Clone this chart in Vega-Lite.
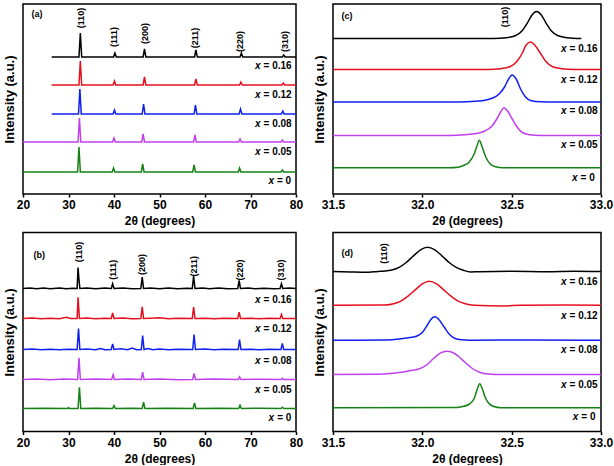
{
"$schema":"https://vega.github.io/schema/vega-lite/v6.json",
"padding":{"left":2,"top":3,"right":0,"bottom":0},
"config":{"font":"Liberation Sans","view":{"stroke":"black","strokeWidth":1.5},
"axisX":{"labelFontSize":12,"labelFontWeight":"bold","labelColor":"black","titleFontSize":12,"titleFontWeight":"bold","titleColor":"black","tickSize":3,"tickColor":"black","tickWidth":1.5,"domain":false,"grid":false,"labelPadding":2.5,"titlePadding":5,"labelFlush":false},
"axisY":{"labels":false,"ticks":false,"domain":false,"grid":false,"titleFontSize":13,"titleFontWeight":"bold","titleColor":"black","titlePadding":7},
"text":{"color":"black"}},
"datasets":{
"a":[
{"s":"0.16","x":26.3,"y":137},{"s":"0.16","x":32.3,"y":137},{"s":"0.16","x":32.6,"y":161},{"s":"0.16","x":32.9,"y":137},{"s":"0.16","x":39.9,"y":137},{"s":"0.16","x":40.2,"y":141},{"s":"0.16","x":40.5,"y":137},{"s":"0.16","x":46.4,"y":137},{"s":"0.16","x":46.7,"y":145},{"s":"0.16","x":47.0,"y":137},{"s":"0.16","x":57.7,"y":137},{"s":"0.16","x":58.0,"y":144},{"s":"0.16","x":58.3,"y":137},{"s":"0.16","x":67.7,"y":137},{"s":"0.16","x":68.0,"y":141},{"s":"0.16","x":68.3,"y":137},{"s":"0.16","x":77.0,"y":137},{"s":"0.16","x":77.3,"y":139},{"s":"0.16","x":77.6,"y":137},{"s":"0.16","x":80,"y":137},
{"s":"0.12","x":26.3,"y":109},{"s":"0.12","x":32.3,"y":109},{"s":"0.12","x":32.6,"y":133},{"s":"0.12","x":32.9,"y":109},{"s":"0.12","x":39.8,"y":109},{"s":"0.12","x":40.1,"y":113},{"s":"0.12","x":40.4,"y":109},{"s":"0.12","x":46.4,"y":109},{"s":"0.12","x":46.7,"y":117},{"s":"0.12","x":47.0,"y":109},{"s":"0.12","x":57.7,"y":109},{"s":"0.12","x":58.0,"y":115},{"s":"0.12","x":58.3,"y":109},{"s":"0.12","x":67.6,"y":109},{"s":"0.12","x":67.9,"y":112},{"s":"0.12","x":68.2,"y":109},{"s":"0.12","x":76.9,"y":109},{"s":"0.12","x":77.2,"y":111},{"s":"0.12","x":77.5,"y":109},{"s":"0.12","x":80,"y":109},
{"s":"0.08","x":26.3,"y":80},{"s":"0.08","x":32.2,"y":80},{"s":"0.08","x":32.5,"y":105},{"s":"0.08","x":32.8,"y":80},{"s":"0.08","x":39.8,"y":80},{"s":"0.08","x":40.1,"y":84},{"s":"0.08","x":40.4,"y":80},{"s":"0.08","x":46.2,"y":80},{"s":"0.08","x":46.5,"y":90},{"s":"0.08","x":46.8,"y":80},{"s":"0.08","x":57.6,"y":80},{"s":"0.08","x":57.9,"y":89},{"s":"0.08","x":58.2,"y":80},{"s":"0.08","x":67.5,"y":80},{"s":"0.08","x":67.8,"y":85},{"s":"0.08","x":68.1,"y":80},{"s":"0.08","x":76.8,"y":80},{"s":"0.08","x":77.1,"y":83},{"s":"0.08","x":77.4,"y":80},{"s":"0.08","x":80,"y":80},
{"s":"0.05","x":20,"y":52},{"s":"0.05","x":32.1,"y":52},{"s":"0.05","x":32.4,"y":76},{"s":"0.05","x":32.7,"y":52},{"s":"0.05","x":39.7,"y":52},{"s":"0.05","x":40.0,"y":56},{"s":"0.05","x":40.3,"y":52},{"s":"0.05","x":46.1,"y":52},{"s":"0.05","x":46.4,"y":60},{"s":"0.05","x":46.7,"y":52},{"s":"0.05","x":57.5,"y":52},{"s":"0.05","x":57.8,"y":59},{"s":"0.05","x":58.1,"y":52},{"s":"0.05","x":67.4,"y":52},{"s":"0.05","x":67.7,"y":55},{"s":"0.05","x":68.0,"y":52},{"s":"0.05","x":76.7,"y":52},{"s":"0.05","x":77.0,"y":54},{"s":"0.05","x":77.3,"y":52},{"s":"0.05","x":80,"y":52},
{"s":"0","x":20,"y":22},{"s":"0","x":32.0,"y":22},{"s":"0","x":32.3,"y":47},{"s":"0","x":32.6,"y":22},{"s":"0","x":39.6,"y":22},{"s":"0","x":39.9,"y":26},{"s":"0","x":40.2,"y":22},{"s":"0","x":46.0,"y":22},{"s":"0","x":46.3,"y":30},{"s":"0","x":46.6,"y":22},{"s":"0","x":57.3,"y":22},{"s":"0","x":57.6,"y":29},{"s":"0","x":57.9,"y":22},{"s":"0","x":67.3,"y":22},{"s":"0","x":67.6,"y":26},{"s":"0","x":67.9,"y":22},{"s":"0","x":76.7,"y":22},{"s":"0","x":77.0,"y":24},{"s":"0","x":77.3,"y":22},{"s":"0","x":80,"y":22}
],
"b":[
{"s":"0.16","x":20,"y":143},{"s":"0.16","x":21.5,"y":143.5},{"s":"0.16","x":23,"y":142.7},{"s":"0.16","x":24.5,"y":143.4},{"s":"0.16","x":26,"y":142.8},{"s":"0.16","x":28,"y":143.5},{"s":"0.16","x":29.5,"y":142.7},{"s":"0.16","x":31,"y":143.3},{"s":"0.16","x":31.9,"y":143},{"s":"0.16","x":32.1,"y":164},{"s":"0.16","x":32.3,"y":152},{"s":"0.16","x":32.5,"y":143},{"s":"0.16","x":34,"y":143.4},{"s":"0.16","x":36,"y":142.7},{"s":"0.16","x":38,"y":143.4},{"s":"0.16","x":39.4,"y":143},{"s":"0.16","x":39.7,"y":147.7},{"s":"0.16","x":40.0,"y":143},{"s":"0.16","x":42,"y":143.5},{"s":"0.16","x":44,"y":142.7},{"s":"0.16","x":45.9,"y":143},{"s":"0.16","x":46.2,"y":154.3},{"s":"0.16","x":46.5,"y":143},{"s":"0.16","x":48,"y":143.5},{"s":"0.16","x":50,"y":142.7},{"s":"0.16","x":52,"y":143.4},{"s":"0.16","x":54,"y":142.8},{"s":"0.16","x":56,"y":143.3},{"s":"0.16","x":57.2,"y":143},{"s":"0.16","x":57.5,"y":155.3},{"s":"0.16","x":57.8,"y":143},{"s":"0.16","x":59.5,"y":143.4},{"s":"0.16","x":61,"y":142.7},{"s":"0.16","x":63,"y":143.5},{"s":"0.16","x":65,"y":142.8},{"s":"0.16","x":67.2,"y":143},{"s":"0.16","x":67.5,"y":151},{"s":"0.16","x":67.8,"y":143},{"s":"0.16","x":69.5,"y":143.4},{"s":"0.16","x":71,"y":142.7},{"s":"0.16","x":73,"y":143.3},{"s":"0.16","x":75,"y":142.8},{"s":"0.16","x":76.5,"y":143},{"s":"0.16","x":76.8,"y":147.7},{"s":"0.16","x":77.1,"y":143},{"s":"0.16","x":78.5,"y":143.4},{"s":"0.16","x":80,"y":143},
{"s":"0.12","x":20,"y":113},{"s":"0.12","x":22,"y":113.4},{"s":"0.12","x":24,"y":112.7},{"s":"0.12","x":26,"y":113.3},{"s":"0.12","x":28,"y":112.8},{"s":"0.12","x":29.5,"y":114.2},{"s":"0.12","x":30.5,"y":113},{"s":"0.12","x":31.9,"y":113},{"s":"0.12","x":32.1,"y":134.3},{"s":"0.12","x":32.4,"y":113},{"s":"0.12","x":34,"y":113.4},{"s":"0.12","x":36,"y":112.8},{"s":"0.12","x":38,"y":113.3},{"s":"0.12","x":39.4,"y":113},{"s":"0.12","x":39.7,"y":118.7},{"s":"0.12","x":40.0,"y":113},{"s":"0.12","x":42,"y":113.4},{"s":"0.12","x":44,"y":112.7},{"s":"0.12","x":45.9,"y":113},{"s":"0.12","x":46.2,"y":124.7},{"s":"0.12","x":46.5,"y":113},{"s":"0.12","x":48,"y":113.3},{"s":"0.12","x":50,"y":113.8},{"s":"0.12","x":52,"y":112.8},{"s":"0.12","x":54,"y":113.3},{"s":"0.12","x":57.2,"y":113},{"s":"0.12","x":57.5,"y":124.3},{"s":"0.12","x":57.8,"y":113},{"s":"0.12","x":60,"y":113.3},{"s":"0.12","x":62,"y":112.8},{"s":"0.12","x":64,"y":113.3},{"s":"0.12","x":67.2,"y":113},{"s":"0.12","x":67.5,"y":119.3},{"s":"0.12","x":67.8,"y":113},{"s":"0.12","x":70,"y":113.3},{"s":"0.12","x":72,"y":112.8},{"s":"0.12","x":74,"y":113.3},{"s":"0.12","x":76.5,"y":113},{"s":"0.12","x":76.8,"y":117},{"s":"0.12","x":77.1,"y":113},{"s":"0.12","x":80,"y":113},
{"s":"0.08","x":20,"y":82},{"s":"0.08","x":22,"y":82.4},{"s":"0.08","x":24,"y":81.7},{"s":"0.08","x":26,"y":82.3},{"s":"0.08","x":28,"y":81.8},{"s":"0.08","x":30,"y":82.3},{"s":"0.08","x":31.9,"y":82},{"s":"0.08","x":32.2,"y":103},{"s":"0.08","x":32.5,"y":82},{"s":"0.08","x":34,"y":82.4},{"s":"0.08","x":36,"y":81.7},{"s":"0.08","x":37,"y":83},{"s":"0.08","x":38,"y":81.8},{"s":"0.08","x":39.4,"y":82},{"s":"0.08","x":39.7,"y":87.7},{"s":"0.08","x":40.0,"y":82},{"s":"0.08","x":41.5,"y":82.8},{"s":"0.08","x":43,"y":81.7},{"s":"0.08","x":44,"y":83.5},{"s":"0.08","x":45,"y":81.8},{"s":"0.08","x":46.0,"y":82},{"s":"0.08","x":46.3,"y":96},{"s":"0.08","x":46.6,"y":82},{"s":"0.08","x":47.5,"y":83},{"s":"0.08","x":48.5,"y":81.7},{"s":"0.08","x":50,"y":82.4},{"s":"0.08","x":52,"y":81.8},{"s":"0.08","x":54,"y":82.3},{"s":"0.08","x":57.3,"y":82},{"s":"0.08","x":57.6,"y":97},{"s":"0.08","x":57.9,"y":82},{"s":"0.08","x":60,"y":82.4},{"s":"0.08","x":62,"y":81.7},{"s":"0.08","x":64,"y":82.3},{"s":"0.08","x":67.3,"y":82},{"s":"0.08","x":67.6,"y":92},{"s":"0.08","x":67.9,"y":82},{"s":"0.08","x":70,"y":82.3},{"s":"0.08","x":72,"y":81.8},{"s":"0.08","x":74,"y":82.3},{"s":"0.08","x":76.7,"y":82},{"s":"0.08","x":77.0,"y":88},{"s":"0.08","x":77.3,"y":82},{"s":"0.08","x":80,"y":82},
{"s":"0.05","x":20,"y":52},{"s":"0.05","x":23,"y":52.4},{"s":"0.05","x":26,"y":51.7},{"s":"0.05","x":29,"y":52.4},{"s":"0.05","x":32.0,"y":52},{"s":"0.05","x":32.3,"y":73.7},{"s":"0.05","x":32.6,"y":52},{"s":"0.05","x":36,"y":52.4},{"s":"0.05","x":39.5,"y":52},{"s":"0.05","x":39.8,"y":56.7},{"s":"0.05","x":40.1,"y":52},{"s":"0.05","x":43,"y":52.4},{"s":"0.05","x":46.0,"y":52},{"s":"0.05","x":46.3,"y":59.3},{"s":"0.05","x":46.6,"y":52},{"s":"0.05","x":50,"y":52.4},{"s":"0.05","x":54,"y":51.7},{"s":"0.05","x":57.3,"y":52},{"s":"0.05","x":57.6,"y":58},{"s":"0.05","x":57.9,"y":52},{"s":"0.05","x":62,"y":52.4},{"s":"0.05","x":67.3,"y":52},{"s":"0.05","x":67.6,"y":54.7},{"s":"0.05","x":67.9,"y":52},{"s":"0.05","x":72,"y":52.3},{"s":"0.05","x":76.7,"y":52},{"s":"0.05","x":77.0,"y":53.3},{"s":"0.05","x":77.3,"y":52},{"s":"0.05","x":80,"y":52},
{"s":"0","x":20,"y":23},{"s":"0","x":25,"y":23.3},{"s":"0","x":29.8,"y":23},{"s":"0","x":30,"y":24},{"s":"0","x":30.2,"y":23},{"s":"0","x":32.1,"y":23},{"s":"0","x":32.4,"y":44.3},{"s":"0","x":32.7,"y":23},{"s":"0","x":36,"y":23.3},{"s":"0","x":39.7,"y":23},{"s":"0","x":40.0,"y":26},{"s":"0","x":40.3,"y":23},{"s":"0","x":44,"y":23.3},{"s":"0","x":46.2,"y":23},{"s":"0","x":46.5,"y":29.3},{"s":"0","x":46.8,"y":23},{"s":"0","x":52,"y":23.3},{"s":"0","x":57.4,"y":23},{"s":"0","x":57.7,"y":28.7},{"s":"0","x":58.0,"y":23},{"s":"0","x":63,"y":23.3},{"s":"0","x":67.4,"y":23},{"s":"0","x":67.7,"y":26.3},{"s":"0","x":68.0,"y":23},{"s":"0","x":72,"y":23.2},{"s":"0","x":76.7,"y":23},{"s":"0","x":77.0,"y":24.3},{"s":"0","x":77.3,"y":23},{"s":"0","x":80,"y":23}
],
"c":[
{"s":"0.16","x":31.5,"y":155.5},{"s":"0.16","x":32.4,"y":155.5},{"s":"0.16","x":32.47,"y":156.3},{"s":"0.16","x":32.52,"y":158.2},{"s":"0.16","x":32.56,"y":163.6},{"s":"0.16","x":32.59,"y":171.7},{"s":"0.16","x":32.615,"y":179.3},{"s":"0.16","x":32.64,"y":182.5},{"s":"0.16","x":32.665,"y":179.3},{"s":"0.16","x":32.69,"y":171.7},{"s":"0.16","x":32.72,"y":163.6},{"s":"0.16","x":32.76,"y":158.2},{"s":"0.16","x":32.81,"y":156.3},{"s":"0.16","x":32.89,"y":155.5},
{"s":"0.12","x":31.5,"y":124.5},{"s":"0.12","x":32.37,"y":124.5},{"s":"0.12","x":32.44,"y":125.3},{"s":"0.12","x":32.49,"y":127.3},{"s":"0.12","x":32.53,"y":132.8},{"s":"0.12","x":32.56,"y":141},{"s":"0.12","x":32.58,"y":148.7},{"s":"0.12","x":32.606,"y":152},{"s":"0.12","x":32.63,"y":148.7},{"s":"0.12","x":32.66,"y":141},{"s":"0.12","x":32.69,"y":132.8},{"s":"0.12","x":32.73,"y":127.3},{"s":"0.12","x":32.78,"y":125.3},{"s":"0.12","x":32.85,"y":124.5},{"s":"0.12","x":33.0,"y":124.5},
{"s":"0.08","x":31.5,"y":92},{"s":"0.08","x":32.2,"y":92},{"s":"0.08","x":32.3,"y":92.8},{"s":"0.08","x":32.35,"y":93.7},{"s":"0.08","x":32.39,"y":95.7},{"s":"0.08","x":32.43,"y":100},{"s":"0.08","x":32.46,"y":107},{"s":"0.08","x":32.483,"y":115},{"s":"0.08","x":32.503,"y":119},{"s":"0.08","x":32.525,"y":115},{"s":"0.08","x":32.55,"y":105},{"s":"0.08","x":32.575,"y":97.5},{"s":"0.08","x":32.61,"y":93.3},{"s":"0.08","x":32.66,"y":92.2},{"s":"0.08","x":32.75,"y":92},{"s":"0.08","x":33.0,"y":92},
{"s":"0.05","x":31.5,"y":58.5},{"s":"0.05","x":32.15,"y":58.5},{"s":"0.05","x":32.24,"y":59.3},{"s":"0.05","x":32.3,"y":60.5},{"s":"0.05","x":32.35,"y":63},{"s":"0.05","x":32.39,"y":68},{"s":"0.05","x":32.42,"y":76},{"s":"0.05","x":32.44,"y":82.5},{"s":"0.05","x":32.457,"y":86.3},{"s":"0.05","x":32.475,"y":83.5},{"s":"0.05","x":32.5,"y":76},{"s":"0.05","x":32.53,"y":67},{"s":"0.05","x":32.56,"y":61.5},{"s":"0.05","x":32.6,"y":59.3},{"s":"0.05","x":32.66,"y":58.5},{"s":"0.05","x":33.0,"y":58.5},
{"s":"0","x":31.5,"y":26.3},{"s":"0","x":32.15,"y":26.3},{"s":"0","x":32.2,"y":26.8},{"s":"0","x":32.23,"y":28.5},{"s":"0","x":32.26,"y":31.5},{"s":"0","x":32.29,"y":40},{"s":"0","x":32.305,"y":47.5},{"s":"0","x":32.319,"y":53.7},{"s":"0","x":32.335,"y":47},{"s":"0","x":32.355,"y":37},{"s":"0","x":32.38,"y":30},{"s":"0","x":32.41,"y":27.2},{"s":"0","x":32.45,"y":26.3},{"s":"0","x":33.0,"y":26.3}
],
"d":[
{"s":"0.16","x":31.5,"y":160},{"s":"0.16","x":31.6,"y":159.5},{"s":"0.16","x":31.7,"y":159.2},{"s":"0.16","x":31.75,"y":160},{"s":"0.16","x":31.79,"y":160.4},{"s":"0.16","x":31.83,"y":161.5},{"s":"0.16","x":31.87,"y":164.1},{"s":"0.16","x":31.91,"y":169},{"s":"0.16","x":31.95,"y":175.6},{"s":"0.16","x":31.99,"y":181.7},{"s":"0.16","x":32.028,"y":184.3},{"s":"0.16","x":32.07,"y":181.7},{"s":"0.16","x":32.11,"y":175.6},{"s":"0.16","x":32.15,"y":169},{"s":"0.16","x":32.19,"y":164.1},{"s":"0.16","x":32.23,"y":161.2},{"s":"0.16","x":32.27,"y":159.5},{"s":"0.16","x":32.32,"y":159.8},{"s":"0.16","x":32.5,"y":160.2},{"s":"0.16","x":32.7,"y":159.8},{"s":"0.16","x":32.85,"y":160.2},{"s":"0.16","x":33.0,"y":160},
{"s":"0.12","x":31.5,"y":126.3},{"s":"0.12","x":31.79,"y":126.6},{"s":"0.12","x":31.84,"y":127.8},{"s":"0.12","x":31.88,"y":130.4},{"s":"0.12","x":31.92,"y":135.3},{"s":"0.12","x":31.96,"y":141.6},{"s":"0.12","x":32.0,"y":147.7},{"s":"0.12","x":32.037,"y":150.3},{"s":"0.12","x":32.08,"y":147.7},{"s":"0.12","x":32.12,"y":141.6},{"s":"0.12","x":32.16,"y":135.3},{"s":"0.12","x":32.2,"y":130.4},{"s":"0.12","x":32.24,"y":127.8},{"s":"0.12","x":32.29,"y":126.3},{"s":"0.12","x":32.45,"y":125.5},{"s":"0.12","x":32.55,"y":126.3},{"s":"0.12","x":32.8,"y":126.6},{"s":"0.12","x":33.0,"y":126.3},
{"s":"0.08","x":31.5,"y":91.3},{"s":"0.08","x":31.8,"y":91.6},{"s":"0.08","x":31.87,"y":92.5},{"s":"0.08","x":31.93,"y":94},{"s":"0.08","x":31.97,"y":95.5},{"s":"0.08","x":32.0,"y":99},{"s":"0.08","x":32.03,"y":107},{"s":"0.08","x":32.05,"y":112.5},{"s":"0.08","x":32.069,"y":114.7},{"s":"0.08","x":32.09,"y":112.5},{"s":"0.08","x":32.12,"y":105},{"s":"0.08","x":32.15,"y":97.5},{"s":"0.08","x":32.18,"y":93.3},{"s":"0.08","x":32.22,"y":91.8},{"s":"0.08","x":32.3,"y":91.3},{"s":"0.08","x":32.6,"y":91.6},{"s":"0.08","x":33.0,"y":91.3},
{"s":"0.05","x":31.5,"y":57},{"s":"0.05","x":31.75,"y":57.3},{"s":"0.05","x":31.82,"y":58},{"s":"0.05","x":31.88,"y":59.3},{"s":"0.05","x":31.93,"y":60.8},{"s":"0.05","x":31.98,"y":62.5},{"s":"0.05","x":32.02,"y":66},{"s":"0.05","x":32.06,"y":72.5},{"s":"0.05","x":32.1,"y":78.3},{"s":"0.05","x":32.136,"y":80.3},{"s":"0.05","x":32.17,"y":79},{"s":"0.05","x":32.2,"y":75.5},{"s":"0.05","x":32.24,"y":69},{"s":"0.05","x":32.28,"y":63},{"s":"0.05","x":32.32,"y":59.3},{"s":"0.05","x":32.37,"y":57.5},{"s":"0.05","x":32.45,"y":57},{"s":"0.05","x":33.0,"y":57},
{"s":"0","x":31.5,"y":23.7},{"s":"0","x":32.17,"y":23.9},{"s":"0","x":32.22,"y":24.8},{"s":"0","x":32.26,"y":27},{"s":"0","x":32.29,"y":33},{"s":"0","x":32.305,"y":41},{"s":"0","x":32.321,"y":47.7},{"s":"0","x":32.335,"y":43},{"s":"0","x":32.35,"y":35},{"s":"0","x":32.37,"y":28.5},{"s":"0","x":32.4,"y":25},{"s":"0","x":32.44,"y":23.8},{"s":"0","x":33.0,"y":23.7}
],
"lab":[
{"p":"a","k":"x","x":72.2,"y":128,"t":"= 0.16"},{"p":"a","k":"x","x":72.2,"y":99,"t":"= 0.12"},{"p":"a","k":"x","x":72.2,"y":70,"t":"= 0.08"},{"p":"a","k":"x","x":72.2,"y":42,"t":"= 0.05"},{"p":"a","k":"x","x":75.16,"y":13,"t":"= 0"},
{"p":"b","k":"x","x":72.2,"y":132,"t":"= 0.16"},{"p":"b","k":"x","x":72.2,"y":102.7,"t":"= 0.12"},{"p":"b","k":"x","x":72.2,"y":71,"t":"= 0.08"},{"p":"b","k":"x","x":72.2,"y":42,"t":"= 0.05"},{"p":"b","k":"x","x":75.2,"y":13.7,"t":"= 0"},
{"p":"c","k":"x","x":32.807,"y":144.7,"t":"= 0.16"},{"p":"c","k":"x","x":32.807,"y":114,"t":"= 0.12"},{"p":"c","k":"x","x":32.807,"y":83,"t":"= 0.08"},{"p":"c","k":"x","x":32.807,"y":48.7,"t":"= 0.05"},{"p":"c","k":"x","x":32.869,"y":16.3,"t":"= 0"},
{"p":"d","k":"x","x":32.807,"y":149.7,"t":"= 0.16"},{"p":"d","k":"x","x":32.807,"y":115.3,"t":"= 0.12"},{"p":"d","k":"x","x":32.807,"y":81.3,"t":"= 0.08"},{"p":"d","k":"x","x":32.807,"y":47,"t":"= 0.05"},{"p":"d","k":"x","x":32.873,"y":14.7,"t":"= 0"},
{"p":"a","k":"h","x":32.64,"y":176,"t":"(110)"},{"p":"a","k":"h","x":40.1,"y":157,"t":"(111)"},{"p":"a","k":"h","x":46.9,"y":160.5,"t":"(200)"},{"p":"a","k":"h","x":57.9,"y":156,"t":"(211)"},{"p":"a","k":"h","x":67.8,"y":152.5,"t":"(220)"},{"p":"a","k":"h","x":77.5,"y":152.5,"t":"(310)"},
{"p":"b","k":"h","x":32.2,"y":179.5,"t":"(110)"},{"p":"b","k":"h","x":39.8,"y":161.7,"t":"(111)"},{"p":"b","k":"h","x":46.2,"y":167,"t":"(200)"},{"p":"b","k":"h","x":57.5,"y":165.3,"t":"(211)"},{"p":"b","k":"h","x":67.7,"y":161.5,"t":"(220)"},{"p":"b","k":"h","x":76.8,"y":161.5,"t":"(310)"},
{"p":"c","k":"h","x":32.465,"y":177,"t":"(110)"},
{"p":"d","k":"h","x":31.788,"y":178,"t":"(110)"},
{"p":"a","k":"t","x":21.87,"y":180,"t":"(a)"},{"p":"b","k":"t","x":22.3,"y":177,"t":"(b)"},{"p":"c","k":"t","x":31.548,"y":178,"t":"(c)"},{"p":"d","k":"t","x":31.548,"y":179,"t":"(d)"}
]
},
"spacing":3.5,
"vconcat":[
{"spacing":8,"hconcat":[
{"width":273,"height":190,"layer":[
{"data":{"name":"a"},"mark":{"type":"line","strokeWidth":1.5},"encoding":{"x":{"field":"x","type":"quantitative","scale":{"domain":[20,80],"nice":false},"axis":{"values":[20,30,40,50,60,70,80],"title":"2θ (degrees)"}},"y":{"field":"y","type":"quantitative","scale":{"domain":[0,190],"nice":false},"axis":{"title":"Intensity (a.u.)"}},"color":{"field":"s","type":"nominal","scale":{"domain":["0.16","0.12","0.08","0.05","0"],"range":["#000000","#e5101e","#1020f0","#c040f0","#148214"]},"legend":null}}},
{"data":{"name":"lab"},"transform":[{"filter":"datum.p==='a' && datum.k==='x'"}],"mark":{"type":"text","align":"right","baseline":"middle","fontStyle":"italic","fontWeight":"bold","fontSize":10},"encoding":{"x":{"field":"x","type":"quantitative"},"y":{"field":"y","type":"quantitative"},"text":{"value":"x"}}},
{"data":{"name":"lab"},"transform":[{"filter":"datum.p==='a' && datum.k==='x'"}],"mark":{"type":"text","align":"left","baseline":"middle","fontWeight":"bold","fontSize":10,"dx":3},"encoding":{"x":{"field":"x","type":"quantitative"},"y":{"field":"y","type":"quantitative"},"text":{"field":"t"}}},
{"data":{"name":"lab"},"transform":[{"filter":"datum.p==='a' && datum.k==='h'"}],"mark":{"type":"text","align":"center","baseline":"middle","angle":270,"fontSize":9,"fontWeight":"bold"},"encoding":{"x":{"field":"x","type":"quantitative"},"y":{"field":"y","type":"quantitative"},"text":{"field":"t"}}},
{"data":{"name":"lab"},"transform":[{"filter":"datum.p==='a' && datum.k==='t'"}],"mark":{"type":"text","align":"left","baseline":"middle","fontWeight":"bold","fontSize":9},"encoding":{"x":{"field":"x","type":"quantitative"},"y":{"field":"y","type":"quantitative"},"text":{"field":"t"}}}
]},
{"width":268,"height":190,"layer":[
{"data":{"name":"c"},"mark":{"type":"line","strokeWidth":1.5,"interpolate":"monotone"},"encoding":{"x":{"field":"x","type":"quantitative","scale":{"domain":[31.5,33.0],"nice":false},"axis":{"values":[31.5,32.0,32.5,33.0],"format":".1f","title":"2θ (degrees)"}},"y":{"field":"y","type":"quantitative","scale":{"domain":[0,190],"nice":false},"axis":{"title":"Intensity (a.u.)"}},"color":{"field":"s","type":"nominal","scale":{"domain":["0.16","0.12","0.08","0.05","0"],"range":["#000000","#e5101e","#1020f0","#c040f0","#148214"]},"legend":null}}},
{"data":{"name":"lab"},"transform":[{"filter":"datum.p==='c' && datum.k==='x'"}],"mark":{"type":"text","align":"right","baseline":"middle","fontStyle":"italic","fontWeight":"bold","fontSize":10},"encoding":{"x":{"field":"x","type":"quantitative"},"y":{"field":"y","type":"quantitative"},"text":{"value":"x"}}},
{"data":{"name":"lab"},"transform":[{"filter":"datum.p==='c' && datum.k==='x'"}],"mark":{"type":"text","align":"left","baseline":"middle","fontWeight":"bold","fontSize":10,"dx":3},"encoding":{"x":{"field":"x","type":"quantitative"},"y":{"field":"y","type":"quantitative"},"text":{"field":"t"}}},
{"data":{"name":"lab"},"transform":[{"filter":"datum.p==='c' && datum.k==='h'"}],"mark":{"type":"text","align":"center","baseline":"middle","angle":270,"fontSize":9,"fontWeight":"bold"},"encoding":{"x":{"field":"x","type":"quantitative"},"y":{"field":"y","type":"quantitative"},"text":{"field":"t"}}},
{"data":{"name":"lab"},"transform":[{"filter":"datum.p==='c' && datum.k==='t'"}],"mark":{"type":"text","align":"left","baseline":"middle","fontWeight":"bold","fontSize":9},"encoding":{"x":{"field":"x","type":"quantitative"},"y":{"field":"y","type":"quantitative"},"text":{"field":"t"}}}
]}
]},
{"spacing":8,"hconcat":[
{"width":273,"height":199,"layer":[
{"data":{"name":"b"},"mark":{"type":"line","strokeWidth":1.5},"encoding":{"x":{"field":"x","type":"quantitative","scale":{"domain":[20,80],"nice":false},"axis":{"values":[20,30,40,50,60,70,80],"title":"2θ (degrees)"}},"y":{"field":"y","type":"quantitative","scale":{"domain":[0,199],"nice":false},"axis":{"title":"Intensity (a.u.)"}},"color":{"field":"s","type":"nominal","scale":{"domain":["0.16","0.12","0.08","0.05","0"],"range":["#000000","#e5101e","#1020f0","#c040f0","#148214"]},"legend":null}}},
{"data":{"name":"lab"},"transform":[{"filter":"datum.p==='b' && datum.k==='x'"}],"mark":{"type":"text","align":"right","baseline":"middle","fontStyle":"italic","fontWeight":"bold","fontSize":10},"encoding":{"x":{"field":"x","type":"quantitative"},"y":{"field":"y","type":"quantitative"},"text":{"value":"x"}}},
{"data":{"name":"lab"},"transform":[{"filter":"datum.p==='b' && datum.k==='x'"}],"mark":{"type":"text","align":"left","baseline":"middle","fontWeight":"bold","fontSize":10,"dx":3},"encoding":{"x":{"field":"x","type":"quantitative"},"y":{"field":"y","type":"quantitative"},"text":{"field":"t"}}},
{"data":{"name":"lab"},"transform":[{"filter":"datum.p==='b' && datum.k==='h'"}],"mark":{"type":"text","align":"center","baseline":"middle","angle":270,"fontSize":9,"fontWeight":"bold"},"encoding":{"x":{"field":"x","type":"quantitative"},"y":{"field":"y","type":"quantitative"},"text":{"field":"t"}}},
{"data":{"name":"lab"},"transform":[{"filter":"datum.p==='b' && datum.k==='t'"}],"mark":{"type":"text","align":"left","baseline":"middle","fontWeight":"bold","fontSize":9},"encoding":{"x":{"field":"x","type":"quantitative"},"y":{"field":"y","type":"quantitative"},"text":{"field":"t"}}}
]},
{"width":268,"height":199,"layer":[
{"data":{"name":"d"},"mark":{"type":"line","strokeWidth":1.5,"interpolate":"monotone"},"encoding":{"x":{"field":"x","type":"quantitative","scale":{"domain":[31.5,33.0],"nice":false},"axis":{"values":[31.5,32.0,32.5,33.0],"format":".1f","title":"2θ (degrees)"}},"y":{"field":"y","type":"quantitative","scale":{"domain":[0,199],"nice":false},"axis":{"title":"Intensity (a.u.)"}},"color":{"field":"s","type":"nominal","scale":{"domain":["0.16","0.12","0.08","0.05","0"],"range":["#000000","#e5101e","#1020f0","#c040f0","#148214"]},"legend":null}}},
{"data":{"name":"lab"},"transform":[{"filter":"datum.p==='d' && datum.k==='x'"}],"mark":{"type":"text","align":"right","baseline":"middle","fontStyle":"italic","fontWeight":"bold","fontSize":10},"encoding":{"x":{"field":"x","type":"quantitative"},"y":{"field":"y","type":"quantitative"},"text":{"value":"x"}}},
{"data":{"name":"lab"},"transform":[{"filter":"datum.p==='d' && datum.k==='x'"}],"mark":{"type":"text","align":"left","baseline":"middle","fontWeight":"bold","fontSize":10,"dx":3},"encoding":{"x":{"field":"x","type":"quantitative"},"y":{"field":"y","type":"quantitative"},"text":{"field":"t"}}},
{"data":{"name":"lab"},"transform":[{"filter":"datum.p==='d' && datum.k==='h'"}],"mark":{"type":"text","align":"center","baseline":"middle","angle":270,"fontSize":9,"fontWeight":"bold"},"encoding":{"x":{"field":"x","type":"quantitative"},"y":{"field":"y","type":"quantitative"},"text":{"field":"t"}}},
{"data":{"name":"lab"},"transform":[{"filter":"datum.p==='d' && datum.k==='t'"}],"mark":{"type":"text","align":"left","baseline":"middle","fontWeight":"bold","fontSize":9},"encoding":{"x":{"field":"x","type":"quantitative"},"y":{"field":"y","type":"quantitative"},"text":{"field":"t"}}}
]}
]}
]
}
